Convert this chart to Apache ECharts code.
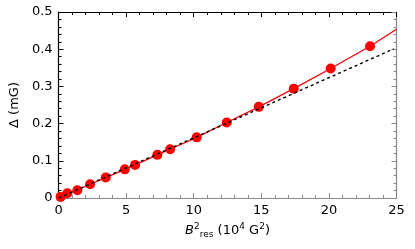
<!DOCTYPE html>
<html><head><meta charset="utf-8">
<script src="https://cdn.jsdelivr.net/npm/echarts@6/dist/echarts.min.js"></script>
<style>html,body{margin:0;padding:0;background:#fff}#c{width:415px;height:249px}</style>
</head><body><div id="c"></div>
<script>
const dotX = [0.15, 0.65, 1.39, 2.33, 3.49, 4.90, 5.66, 7.31, 8.25, 10.22, 12.44, 14.81, 17.40, 20.13, 23.04];
const dotY = [0.003, 0.013, 0.021, 0.037, 0.055, 0.077, 0.089, 0.116, 0.131, 0.163, 0.203, 0.245, 0.294, 0.348, 0.408];
const fitX = [0, 0.65, 1.39, 2.33, 3.49, 4.90, 5.66, 7.31, 8.25, 10.22, 12.44, 14.81, 17.40, 20.13, 23.04, 25];
const fitY = [0, 0.012, 0.022, 0.037, 0.055, 0.077, 0.089, 0.116, 0.131, 0.163, 0.203, 0.245, 0.294, 0.348, 0.408, 0.4535];
const linX = [0, 24.8];
const linY = [0, 0.401];
const xTicks = [0, 5, 10, 15, 20, 25];
const yTicks = [0, 0.1, 0.2, 0.3, 0.4, 0.5];

const font = 'DejaVu Sans';
const pair = (a, b) => a.map((v, i) => [v, b[i]]);
const chart = echarts.init(document.getElementById('c'));
const tickCommon = (color) => ({
  axisLine: {show: true, onZero: false, lineStyle: {color: color, width: 1.2}},
  axisTick: {show: true, inside: true, length: 5, lineStyle: {color: color, width: 1}},
  minorTick: {show: true, splitNumber: 5, length: 3, lineStyle: {color: color, width: 1}},
  splitLine: {show: false}
});
chart.setOption({
  animation: false,
  grid: {left: 58.5, right: 18.5, top: 12, bottom: 51},
  xAxis: [
    Object.assign({
      type: 'value', min: xTicks[0], max: xTicks[xTicks.length - 1], interval: 5, position: 'bottom',
      axisLabel: {color: '#000', fontFamily: font, fontSize: 13, margin: 6},
      name: '{i|B}{sup|2}{sub|res}{n| (10}{sup|4}{n| G}{sup|2}{n|)}',
      nameLocation: 'middle', nameGap: 24,
      nameTextStyle: {
        color: '#000', fontFamily: font, fontSize: 13,
        rich: {
          i: {fontStyle: 'italic', fontFamily: font, fontSize: 13, color: '#000'},
          n: {fontFamily: font, fontSize: 13, color: '#000'},
          sup: {fontFamily: font, fontSize: 9, color: '#000', padding: [0, 0, 9, 0]},
          sub: {fontFamily: font, fontSize: 9, color: '#000', padding: [7, 0, 0, 0]}
        }
      }
    }, tickCommon('#888')),
    Object.assign({
      type: 'value', min: 0, max: 25, interval: 5, position: 'top',
      axisLabel: {show: false}
    }, tickCommon('#000'))
  ],
  yAxis: [
    Object.assign({
      type: 'value', min: yTicks[0], max: yTicks[yTicks.length - 1], interval: 0.1, position: 'left',
      axisLabel: {color: '#000', fontFamily: font, fontSize: 13, margin: 6,
        formatter: v => v === 0 ? '0' : v.toFixed(1)},
      name: 'Δ (mG)', nameLocation: 'middle', nameGap: 33,
      nameTextStyle: {color: '#000', fontFamily: font, fontSize: 13}
    }, tickCommon('#000')),
    Object.assign({
      type: 'value', min: 0, max: 0.5, interval: 0.1, position: 'right',
      axisLabel: {show: false}
    }, tickCommon('#888'))
  ],
  series: [
    {type: 'line', data: pair(linX, linY), showSymbol: false, symbol: 'none',
      lineStyle: {color: '#000', width: 1.4, type: [3, 3]}, z: 4},
    {type: 'line', data: pair(fitX, fitY), showSymbol: false, symbol: 'none',
      lineStyle: {color: '#ff0000', width: 1.3}, z: 2},
    {type: 'scatter', data: pair(dotX, dotY), symbol: 'circle', symbolSize: 10,
      itemStyle: {color: '#ff0000', opacity: 1}, z: 3}
  ]
});
</script></body></html>
